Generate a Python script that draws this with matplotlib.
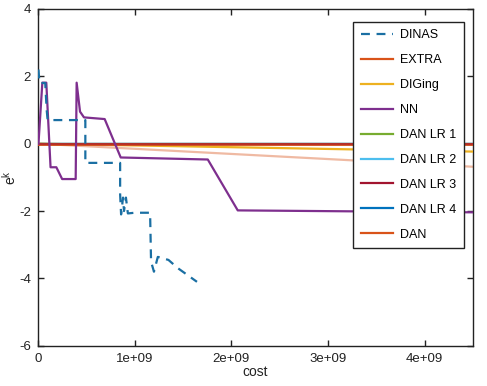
import matplotlib
matplotlib.use("Agg")
import matplotlib.pyplot as plt
from matplotlib.lines import Line2D

plt.rcParams['font.family'] = ['Liberation Sans', 'DejaVu Sans']
plt.rcParams['axes.unicode_minus'] = False

# Data (cost in units of 1e9)
dinas_x = [0.005, 0.015, 0.075, 0.09, 0.10, 0.49, 0.49, 0.85, 0.85, 0.86, 0.88, 0.89, 0.91,
           0.93, 1.00, 1.16, 1.17, 1.20, 1.24, 1.35, 1.45, 1.645]
dinas_y = [2.2, 1.8, 1.8, 1.0, 0.7, 0.7, -0.57, -0.57, -1.5, -2.1, -1.6, -2.0, -1.6,
           -2.07, -2.05, -2.05, -3.5, -3.8, -3.36, -3.45, -3.7, -4.1]

nn_x = [0.005, 0.045, 0.086, 0.13, 0.19, 0.25, 0.39, 0.40, 0.435, 0.476, 0.69, 0.856,
        1.757, 2.067, 4.6]
nn_y = [0.0, 1.81, 1.81, -0.70, -0.70, -1.05, -1.05, 1.81, 0.95, 0.78, 0.73, -0.41,
        -0.47, -1.98, -2.04]

extra_x = [0.0, 4.6]
extra_y = [0.0, -0.70]

diging_x = [0.0, 4.6]
diging_y = [0.0, -0.24]

dan_x = [0.0, 4.6]
dan_lr1_y = [0.0, 0.0]
dan_lr2_y = [0.0, 0.0]
dan_lr3_y = [0.0, 0.0]
dan_lr4_y = [0.0, 0.0]
dan_y = [0.0, 0.0]

labels = ['DINAS', 'EXTRA', 'DIGing', 'NN', 'DAN LR 1', 'DAN LR 2', 'DAN LR 3', 'DAN LR 4', 'DAN']
colors = ['#1A6FA3', '#D95319', '#EDB120', '#7E2F8E', '#77AC30', '#4DBEEE', '#A2142F', '#0072BD', '#D95319']

xticks = [0, 1e9, 2e9, 3e9, 4e9]
xticklabels = ['0', '1e+09', '2e+09', '3e+09', '4e+09']
yticks = [-6, -4, -2, 0, 2, 4]

fig = plt.figure(figsize=(4.87, 3.86), dpi=100)
ax = fig.add_axes([0.078, 0.104, 0.893, 0.873])

lw = 1.6
s = 1e9
ax.plot([v * s for v in extra_x], extra_y, color=colors[1], lw=lw, alpha=0.4, zorder=2)
ax.plot([v * s for v in diging_x], diging_y, color=colors[2], lw=lw, zorder=3)
ax.plot([v * s for v in dan_x], dan_lr1_y, color=colors[4], lw=lw, zorder=3)
ax.plot([v * s for v in dan_x], dan_lr2_y, color=colors[5], lw=lw, zorder=3)
ax.plot([v * s for v in dan_x], dan_lr4_y, color=colors[7], lw=lw, zorder=3)
ax.plot([v * s for v in dan_x], dan_y, color=colors[8], lw=2.0, zorder=4)
ax.plot([v * s for v in dan_x], dan_lr3_y, color=colors[6], lw=1.6, alpha=0.55, zorder=5)
ax.plot([v * s for v in nn_x], nn_y, color=colors[3], lw=lw, zorder=6)
ax.plot([v * s for v in dinas_x], dinas_y, color=colors[0], lw=lw, dashes=(4, 3), zorder=7)

ax.set_xlim(0, 4.5e9)
ax.set_ylim(-6, 4)
ax.set_xticks(xticks)
ax.set_xticklabels(xticklabels)
ax.set_yticks(yticks)
ax.tick_params(direction='in', top=True, right=True, length=4, width=1,
               labelsize=9.5, colors='#222222', labelcolor='#222222', pad=5)
for sp in ax.spines.values():
    sp.set_linewidth(1.0)
    sp.set_color('#222222')

ax.set_xlabel('cost', fontsize=10, labelpad=0, color='#222222')
ax.set_ylabel('e$^\\mathregular{k}$', fontsize=10, labelpad=0, color='#222222')

handles = []
for i, (lab, c) in enumerate(zip(labels, colors)):
    if i == 0:
        h = Line2D([], [], color=c, lw=lw, dashes=(4, 3))
    else:
        h = Line2D([], [], color=c, lw=lw)
    handles.append(h)

leg = ax.legend(handles, labels, loc='upper left',
                bbox_to_anchor=(353 / 487, 1 - 22 / 386), bbox_transform=fig.transFigure,
                borderaxespad=0, fontsize=9, frameon=True, fancybox=False,
                edgecolor='#222222', framealpha=1, labelspacing=1.03,
                handlelength=2.6, handletextpad=0.55, borderpad=0.6)
leg.get_frame().set_linewidth(1.0)
leg.set_zorder(20)

fig.savefig('out.png', dpi=100)
